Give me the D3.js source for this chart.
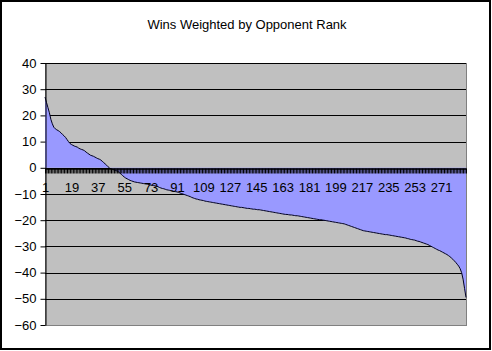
<!DOCTYPE html>
<html>
<head>
<meta charset="utf-8">
<script src="https://cdn.jsdelivr.net/npm/d3@7"></script>
<style>
  html, body { margin: 0; padding: 0; background: #fff; }
  svg { display: block; }
  text { font-family: "Liberation Sans", Arial, sans-serif; }
</style>
</head>
<body>
<svg id="chart" width="492" height="351"></svg>
<script>
const title = "Wins Weighted by Opponent Rank";
const yTicks = [-60, -50, -40, -30, -20, -10, 0, 10, 20, 30, 40];
const labelEvery = 18;
const values = [
  27, 25, 23, 21, 18.5, 16.8, 15.5, 14.9, 14.5, 14.2,
  13.8, 13.3, 12.7, 12.2, 11.6, 10.8, 10, 9.3, 8.9, 8.6,
  8.3, 8.1, 7.9, 7.5, 7.2, 7.0, 6.8, 6.5, 6.0, 5.6,
  5.2, 4.8, 4.6, 4.4, 4.1, 3.8, 3.5, 3.3, 3.0, 2.5,
  2.0, 1.5, 1.0, 0.4, -0.1, -0.4, -0.6, -0.8, -1.0, -1.2,
  -1.5, -2.0, -2.5, -3.0, -3.5, -3.9, -4.2, -4.5, -4.8, -5.0,
  -5.2, -5.4, -5.5, -5.6, -5.7, -5.8, -5.9, -6.0, -6.1, -6.2,
  -6.3, -6.5, -6.6, -6.7, -6.8, -6.9, -7.0, -7.2, -7.5, -7.7,
  -7.9, -8.0, -8.2, -8.4, -8.5, -8.6, -8.8, -8.9, -9.0, -9.1,
  -9.2, -9.4, -9.6, -9.8, -10.0, -10.2, -10.4, -10.6, -10.8, -11.0,
  -11.3, -11.5, -11.7, -11.9, -12.0, -12.2, -12.3, -12.4, -12.5, -12.7,
  -12.8, -12.9, -13.0, -13.1, -13.2, -13.3, -13.4, -13.5, -13.6, -13.7,
  -13.8, -13.9, -14.0, -14.1, -14.2, -14.3, -14.4, -14.5, -14.6, -14.7,
  -14.8, -14.9, -15.0, -15.1, -15.1, -15.2, -15.3, -15.4, -15.5, -15.5,
  -15.6, -15.7, -15.8, -15.8, -15.9, -16.0, -16.0, -16.1, -16.2, -16.3,
  -16.4, -16.5, -16.6, -16.7, -16.8, -16.9, -17.0, -17.1, -17.2, -17.3,
  -17.4, -17.5, -17.6, -17.7, -17.8, -17.8, -17.9, -18.0, -18.0, -18.1,
  -18.2, -18.3, -18.3, -18.4, -18.5, -18.6, -18.7, -18.8, -18.9, -19.0,
  -19.1, -19.2, -19.3, -19.4, -19.5, -19.6, -19.7, -19.8, -19.8, -19.9,
  -20.0, -20.1, -20.2, -20.3, -20.4, -20.5, -20.6, -20.7, -20.8, -20.9,
  -21.0, -21.1, -21.2, -21.3, -21.4, -21.6, -21.8, -22.0, -22.2, -22.4,
  -22.6, -22.8, -23.0, -23.2, -23.4, -23.6, -23.8, -24.0, -24.1, -24.2,
  -24.3, -24.4, -24.5, -24.6, -24.7, -24.8, -24.9, -25.0, -25.1, -25.2,
  -25.3, -25.4, -25.5, -25.5, -25.6, -25.7, -25.8, -25.9, -26.0, -26.1,
  -26.2, -26.3, -26.4, -26.5, -26.6, -26.7, -26.8, -27.0, -27.1, -27.3,
  -27.4, -27.5, -27.6, -27.8, -28.0, -28.1, -28.3, -28.5, -28.7, -28.9,
  -29.1, -29.3, -29.6, -29.9, -30.2, -30.5, -30.8, -31.1, -31.4, -31.6,
  -31.9, -32.2, -32.5, -32.8, -33.1, -33.5, -33.9, -34.4, -34.9, -35.5,
  -36.1, -36.8, -37.5, -38.5, -40.0, -42.5, -46.0, -49.5
];
const categories = values.map((v, i) => i + 1);

const svg = d3.select("#chart");
const plot = { left: 45, right: 466, top: 63, bottom: 325 };

// outer chart border
svg.append("rect")
  .attr("x", 1).attr("y", 1).attr("width", 489).attr("height", 348)
  .attr("fill", "#fff").attr("stroke", "#000").attr("stroke-width", 2);

// title
svg.append("text")
  .attr("x", 247).attr("y", 29)
  .attr("text-anchor", "middle")
  .attr("font-size", 13)
  .attr("fill", "#000")
  .text(title);

const x = d3.scaleLinear().domain([1, categories.length]).range([plot.left, plot.right]);
const y = d3.scaleLinear().domain([-60, 40]).range([plot.bottom, plot.top]);

// plot background
svg.append("rect")
  .attr("x", plot.left).attr("y", plot.top)
  .attr("width", plot.right - plot.left).attr("height", plot.bottom - plot.top)
  .attr("fill", "#c0c0c0").attr("stroke", "#808080").attr("stroke-width", 1)
  .attr("shape-rendering", "crispEdges");

// gridlines
svg.append("g").selectAll("line")
  .data(yTicks.filter(t => t > -60))
  .join("line")
  .attr("x1", plot.left).attr("x2", plot.right)
  .attr("y1", d => Math.round(y(d)) + 0.5).attr("y2", d => Math.round(y(d)) + 0.5)
  .attr("stroke", "#000").attr("stroke-width", 1);

// area
const area = d3.area()
  .x((d, i) => x(categories[i]))
  .y0(y(0))
  .y1(d => y(d));
svg.append("path")
  .datum(values)
  .attr("d", area)
  .attr("fill", "#9999ff");

const line = d3.line()
  .x((d, i) => x(categories[i]))
  .y(d => y(d));
svg.append("path")
  .datum(values)
  .attr("d", line)
  .attr("fill", "none")
  .attr("stroke", "#000020")
  .attr("stroke-width", 1);

// y axis
const yAxis = d3.axisLeft(y).tickValues(yTicks).tickSize(5).tickPadding(4).tickSizeOuter(0);
const gy = svg.append("g")
  .attr("transform", `translate(${plot.left + 0.5},0)`)
  .call(yAxis);
gy.selectAll("text").attr("font-size", 13).attr("font-family", "Liberation Sans, Arial, sans-serif").attr("fill", "#000");
gy.selectAll("line, path").attr("stroke", "#000");

// x axis at zero
const xAxis = d3.axisBottom(x)
  .tickValues(categories)
  .tickSize(5)
  .tickPadding(9)
  .tickSizeOuter(0)
  .tickFormat(d => ((d - 1) % labelEvery === 0 ? String(d) : ""));
const gx = svg.append("g")
  .attr("transform", `translate(0,${Math.round(y(0)) + 0.5})`)
  .call(xAxis);
gx.selectAll("text").attr("font-size", 13).attr("font-family", "Liberation Sans, Arial, sans-serif").attr("fill", "#000");
gx.selectAll("line, path").attr("stroke", "#000");
gx.select(".domain").attr("stroke-width", 1.5);
</script>
</body>
</html>
